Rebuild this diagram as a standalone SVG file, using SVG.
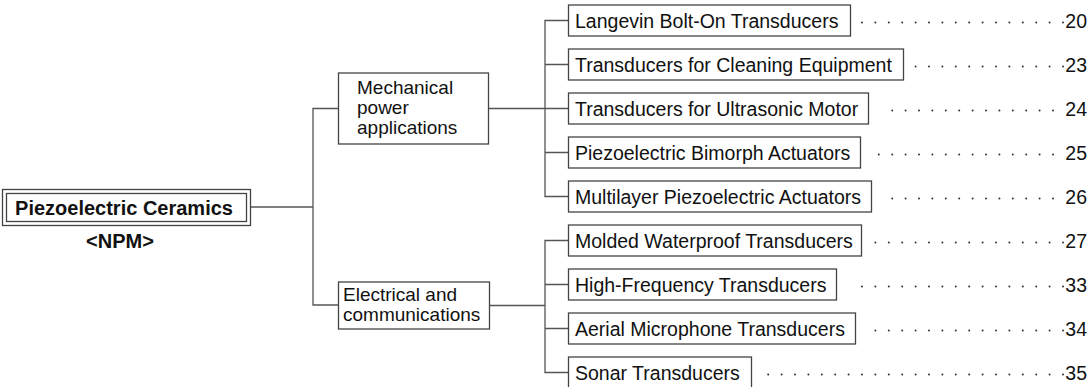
<svg xmlns="http://www.w3.org/2000/svg" width="1088" height="387" viewBox="0 0 1088 387">
<style>
.bx{fill:#fff;stroke:#444;stroke-width:1.3}
.ln{fill:none;stroke:#555;stroke-width:1.3}
.t{font-family:"Liberation Sans",Arial,sans-serif;font-size:19.5px;fill:#111}
.s{font-family:"Liberation Sans",Arial,sans-serif;font-size:19px;fill:#111}
.b{font-family:"Liberation Sans",Arial,sans-serif;font-size:20px;font-weight:bold;fill:#111}
.n{font-family:"Liberation Sans",Arial,sans-serif;font-size:19.5px;fill:#111;text-anchor:end}
.d{fill:none;stroke:#333;stroke-width:2;stroke-linecap:round;stroke-dasharray:0 13.4}
</style>
<rect width="1088" height="387" fill="#fff"/>
<g id="connectors">
<path class="ln" d="M250,207H313M338,108.5H313V305H338"/>
<path class="ln" d="M488,108.5H545M568,20.5H545V196.5H568M545,64.5H568M545,108.5H568M545,152.5H568"/>
<path class="ln" d="M489,305.5H545M568,240.5H545V372.5H568M545,284.5H568M545,328.5H568"/>
</g>
<g id="root">
<rect class="bx" x="2.5" y="189.5" width="248" height="36"/>
<rect class="bx" x="6.5" y="193.5" width="240" height="28"/>
<text class="b" x="124" y="214.5" text-anchor="middle">Piezoelectric Ceramics</text>
<text class="b" x="120" y="248" text-anchor="middle">&lt;NPM&gt;</text>
</g>
<g id="mechanical">
<rect class="bx" x="338.5" y="73" width="150" height="71"/>
<text class="s" x="357" y="94">Mechanical</text>
<text class="s" x="357" y="114">power</text>
<text class="s" x="357" y="134">applications</text>
</g>
<g id="electrical">
<rect class="bx" x="338.5" y="282" width="151" height="47"/>
<text class="s" x="343" y="301">Electrical and</text>
<text class="s" x="343" y="321">communications</text>
</g>
<g id="r0"><rect class="bx" x="568.5" y="5" width="282" height="31"/><text class="t" x="575" y="28">Langevin Bolt-On Transducers</text><path class="d" d="M1063,22.5H860"/><text class="n" x="1087" y="28">20</text></g>
<g id="r1"><rect class="bx" x="568.5" y="49" width="335" height="31"/><text class="t" x="575" y="72">Transducers for Cleaning Equipment</text><path class="d" d="M1063,66.5H912"/><text class="n" x="1087" y="72">23</text></g>
<g id="r2"><rect class="bx" x="568.5" y="93" width="300" height="31"/><text class="t" x="575" y="116">Transducers for Ultrasonic Motor</text><path class="d" d="M1053,110.5H885"/><text class="n" x="1087" y="116">24</text></g>
<g id="r3"><rect class="bx" x="568.5" y="137" width="292" height="31"/><text class="t" x="575" y="160">Piezoelectric Bimorph Actuators</text><path class="d" d="M1053,154.5H877"/><text class="n" x="1087" y="160">25</text></g>
<g id="r4"><rect class="bx" x="568.5" y="181" width="303" height="31"/><text class="t" x="575" y="204">Multilayer Piezoelectric Actuators</text><path class="d" d="M1053,198.5H885"/><text class="n" x="1087" y="204">26</text></g>
<g id="r5"><rect class="bx" x="568.5" y="225" width="293" height="31"/><text class="t" x="575" y="248">Molded Waterproof Transducers</text><path class="d" d="M1063,242.5H870"/><text class="n" x="1087" y="248">27</text></g>
<g id="r6"><rect class="bx" x="568.5" y="269" width="268" height="31"/><text class="t" x="575" y="292">High-Frequency Transducers</text><path class="d" d="M1063,286.5H849"/><text class="n" x="1087" y="292">33</text></g>
<g id="r7"><rect class="bx" x="568.5" y="313" width="287" height="31"/><text class="t" x="575" y="336">Aerial Microphone Transducers</text><path class="d" d="M1063,330.5H867"/><text class="n" x="1087" y="336">34</text></g>
<g id="r8"><rect class="bx" x="568.5" y="357" width="183" height="31"/><text class="t" x="575" y="380">Sonar Transducers</text><path class="d" d="M1063,374.5H760"/><text class="n" x="1087" y="380">35</text></g>
</svg>
